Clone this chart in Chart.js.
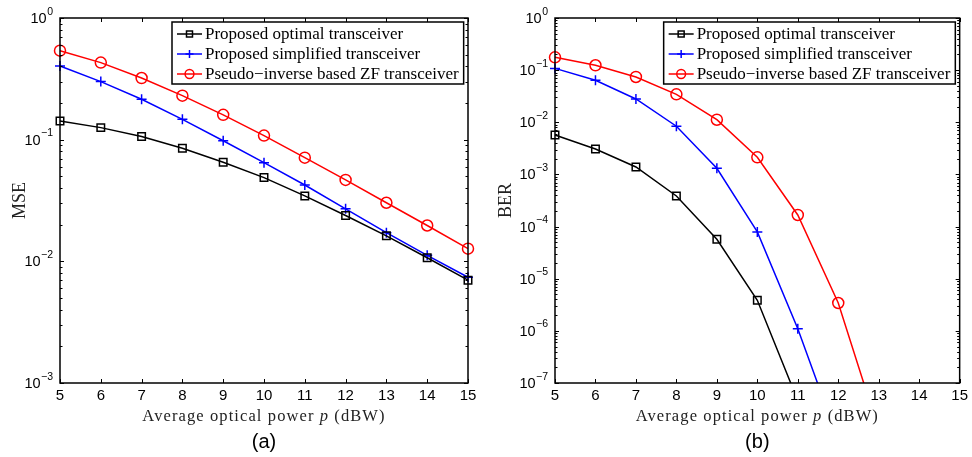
<!DOCTYPE html>
<html>
<head>
<meta charset="utf-8">
<script src="https://cdn.jsdelivr.net/npm/chart.js@4.4.1/dist/chart.umd.min.js"></script>
<style>
  html, body { margin: 0; padding: 0; background: #fff; }
  .panel { position: absolute; top: 0; width: 486px; height: 457px; }
  #left { left: 0; }
  #right { left: 486px; }
</style>
</head>
<body>
<div class="panel" id="left"><canvas id="mseChart"></canvas></div>
<div class="panel" id="right"><canvas id="berChart"></canvas></div>
<script>
// Data
const powers = [5, 6, 7, 8, 9, 10, 11, 12, 13, 14, 15];
const seriesNames = ['Proposed optimal transceiver', 'Proposed simplified transceiver', 'Pseudo\u2212inverse based ZF transceiver'];

// (a) MSE
const mseOptimal = [0.1425, 0.1256, 0.106, 0.085, 0.0652, 0.0488, 0.0345, 0.0238, 0.0162, 0.0107, 0.0070];
const mseSimplified = [0.403, 0.300, 0.215, 0.147, 0.098, 0.0647, 0.0424, 0.0270, 0.0172, 0.0112, 0.0074];
const mseZF = [0.539, 0.430, 0.321, 0.230, 0.160, 0.108, 0.0711, 0.0467, 0.0303, 0.0197, 0.0127];

// (b) BER (last point of each runs below the axis floor)
const berPowers = [5, 6, 7, 8, 9, 10, 11, 12, 13];
const berOptimal = [5.7e-3, 3.07e-3, 1.39e-3, 3.86e-4, 5.7e-5, 3.85e-6, 4.6e-8];
const berSimplified = [0.108, 0.0638, 0.028, 8.4e-3, 1.31e-3, 7.9e-5, 1.1e-6, 8e-9];
const berZF = [0.176, 0.124, 0.074, 0.0344, 0.0112, 2.13e-3, 1.67e-4, 3.42e-6, 1.25e-8];

const xTitleParts = [['Average optical power ', 'normal'], ['p', 'italic'], [' (dBW)', 'normal']];

function pts(xs, ys) {
  return ys.map((y, i) => ({x: xs[i], y: y}));
}

// matlab style box with inward ticks
const frameTicks = {
  id: 'frameTicks',
  afterDatasetsDraw(chart) {
    const {ctx, chartArea: a, scales: {x, y}} = chart;
    ctx.save();
    ctx.strokeStyle = '#000';
    ctx.lineWidth = 1;
    ctx.beginPath();
    x.ticks.forEach(t => {
      const px = Math.round(x.getPixelForValue(t.value)) + 0.5;
      ctx.moveTo(px, a.bottom); ctx.lineTo(px, a.bottom - 4);
      ctx.moveTo(px, a.top); ctx.lineTo(px, a.top + 4);
    });
    const lo = Math.round(Math.log10(y.min)), hi = Math.round(Math.log10(y.max));
    for (let d = lo; d <= hi; d++) {
      for (let k = 1; k <= 9; k++) {
        const v = k * Math.pow(10, d);
        if (v < y.min * 0.999 || v > y.max * 1.001) continue;
        const py = Math.round(y.getPixelForValue(v)) + 0.5;
        const len = k === 1 ? 4 : 2.5;
        ctx.moveTo(a.left, py); ctx.lineTo(a.left + len, py);
        ctx.moveTo(a.right, py); ctx.lineTo(a.right - len, py);
      }
    }
    ctx.stroke();
    ctx.lineWidth = 1.5;
    ctx.strokeRect(a.left, a.top, a.right - a.left, a.bottom - a.top);
    ctx.restore();
  }
};

// 10 with raised exponent for the decade ticks
const logLabels = {
  id: 'logLabels',
  afterDraw(chart) {
    const {ctx, chartArea: a, scales: {y}} = chart;
    ctx.save();
    ctx.fillStyle = '#000';
    ctx.textAlign = 'right';
    ctx.textBaseline = 'alphabetic';
    y.ticks.forEach(t => {
      const py = y.getPixelForValue(t.value);
      const e = String(Math.round(Math.log10(t.value))).replace('-', '\u2212');
      const xr = a.left - 7;
      ctx.font = '10.5px "Liberation Sans"';
      const ew = ctx.measureText(e).width;
      ctx.fillText(e, xr, py - 3.5);
      ctx.font = '14.5px "Liberation Sans"';
      ctx.fillText('10', xr - ew - 0.5, py + 5);
    });
    ctx.restore();
  }
};

const xTitle = {
  id: 'xTitle',
  afterDraw(chart) {
    const {ctx, chartArea: a} = chart;
    ctx.save();
    ctx.letterSpacing = '1.1px';
    ctx.fillStyle = '#222';
    ctx.textBaseline = 'middle';
    ctx.textAlign = 'left';
    const fontOf = st => st + ' 16.5px "Liberation Serif"';
    let total = 0;
    xTitleParts.forEach(([s, st]) => { ctx.font = fontOf(st); total += ctx.measureText(s).width; });
    let px = (a.left + a.right) / 2 - total / 2;
    xTitleParts.forEach(([s, st]) => {
      ctx.font = fontOf(st);
      ctx.fillText(s, px, a.bottom + 34);
      px += ctx.measureText(s).width;
    });
    ctx.restore();
  }
};

const boxLegend = {
  id: 'boxLegend',
  afterDraw(chart) {
    const {ctx, chartArea: a} = chart;
    const sets = chart.data.datasets;
    ctx.save();
    ctx.font = '17px "Liberation Serif"';
    const tw = Math.max(...sets.map(d => ctx.measureText(d.label).width));
    const w = 34 + tw + 4, h = 62;
    const x0 = a.right - 296, y0 = a.top + 4;
    ctx.fillStyle = '#fff';
    ctx.fillRect(x0, y0, w, h);
    ctx.strokeStyle = '#000';
    ctx.lineWidth = 1.5;
    ctx.strokeRect(x0, y0, w, h);
    sets.forEach((d, i) => {
      const cy = y0 + 12 + i * 20;
      ctx.strokeStyle = d.borderColor;
      ctx.lineWidth = 1.5;
      ctx.beginPath();
      ctx.moveTo(x0 + 5, cy); ctx.lineTo(x0 + 30, cy);
      ctx.stroke();
      ctx.fillStyle = 'rgba(0,0,0,0)';
      Chart.helpers.drawPoint(ctx, {pointStyle: d.pointStyle, radius: d.pointRadius * 0.8, borderWidth: 1.5, rotation: 0}, x0 + 17.5, cy);
      ctx.fillStyle = '#000';
      ctx.textBaseline = 'middle';
      ctx.textAlign = 'left';
      ctx.fillText(d.label, x0 + 33, cy + 1);
    });
    ctx.restore();
  }
};

function makeDatasets(xs, a, b, c) {
  const common = {
    borderWidth: 1.5, pointBorderWidth: 1.5, pointBackgroundColor: 'rgba(0,0,0,0)', tension: 0,
    clip: {left: 10, right: 10, top: 10, bottom: 0}
  };
  return [
    {...common, label: seriesNames[0], data: pts(xs, a), borderColor: '#000', pointBorderColor: '#000', pointStyle: 'rect', pointRadius: 5.3},
    {...common, label: seriesNames[1], data: pts(xs, b), borderColor: '#0000ff', pointBorderColor: '#0000ff', pointStyle: 'cross', pointRadius: 5},
    {...common, label: seriesNames[2], data: pts(xs, c), borderColor: '#ff0000', pointBorderColor: '#ff0000', pointStyle: 'circle', pointRadius: 5.5}
  ];
}

function createChart(id, datasets, yMin, yTitle, caption, yWidth, padRight) {
  const ctx = document.getElementById(id).getContext('2d');
  return new Chart(ctx, {
    type: 'line',
    data: {datasets: datasets},
    plugins: [frameTicks, logLabels, xTitle, boxLegend],
    options: {
      responsive: true,
      maintainAspectRatio: false,
      animation: false,
      layout: {padding: {top: 18, right: padRight, bottom: 3, left: 0}},
      plugins: {
        legend: {display: false},
        tooltip: {enabled: false},
        title: {
          display: true,
          position: 'bottom',
          fullSize: false,
          text: caption,
          color: '#000',
          font: {family: '"Liberation Sans"', size: 20, weight: 'normal'},
          padding: {top: 4, bottom: 0}
        }
      },
      scales: {
        x: {
          type: 'linear',
          min: 5,
          max: 15,
          grid: {display: false, drawTicks: false},
          border: {display: false},
          ticks: {stepSize: 1, padding: 4, color: '#000', font: {family: '"Liberation Sans"', size: 15}},
          afterFit: s => { s.height = 43; }
        },
        y: {
          type: 'logarithmic',
          min: yMin,
          max: 1,
          grid: {display: false, drawTicks: false},
          border: {display: false},
          afterBuildTicks: s => {
            const t = [];
            for (let d = Math.round(Math.log10(yMin)); d <= 0; d++) t.push({value: Math.pow(10, d)});
            s.ticks = t;
          },
          ticks: {display: false},
          title: {
            display: true,
            text: yTitle,
            color: '#222',
            font: {family: '"Liberation Serif"', size: 18},
            padding: {top: 9, bottom: 0}
          },
          afterFit: s => { s.width = yWidth; }
        }
      }
    }
  });
}

createChart('mseChart', makeDatasets(powers, mseOptimal, mseSimplified, mseZF), 1e-3, 'MSE', '(a)', 60, 18);
createChart('berChart', makeDatasets(berPowers, berOptimal, berSimplified, berZF), 1e-7, 'BER', '(b)', 69, 10);
</script>
</body>
</html>
